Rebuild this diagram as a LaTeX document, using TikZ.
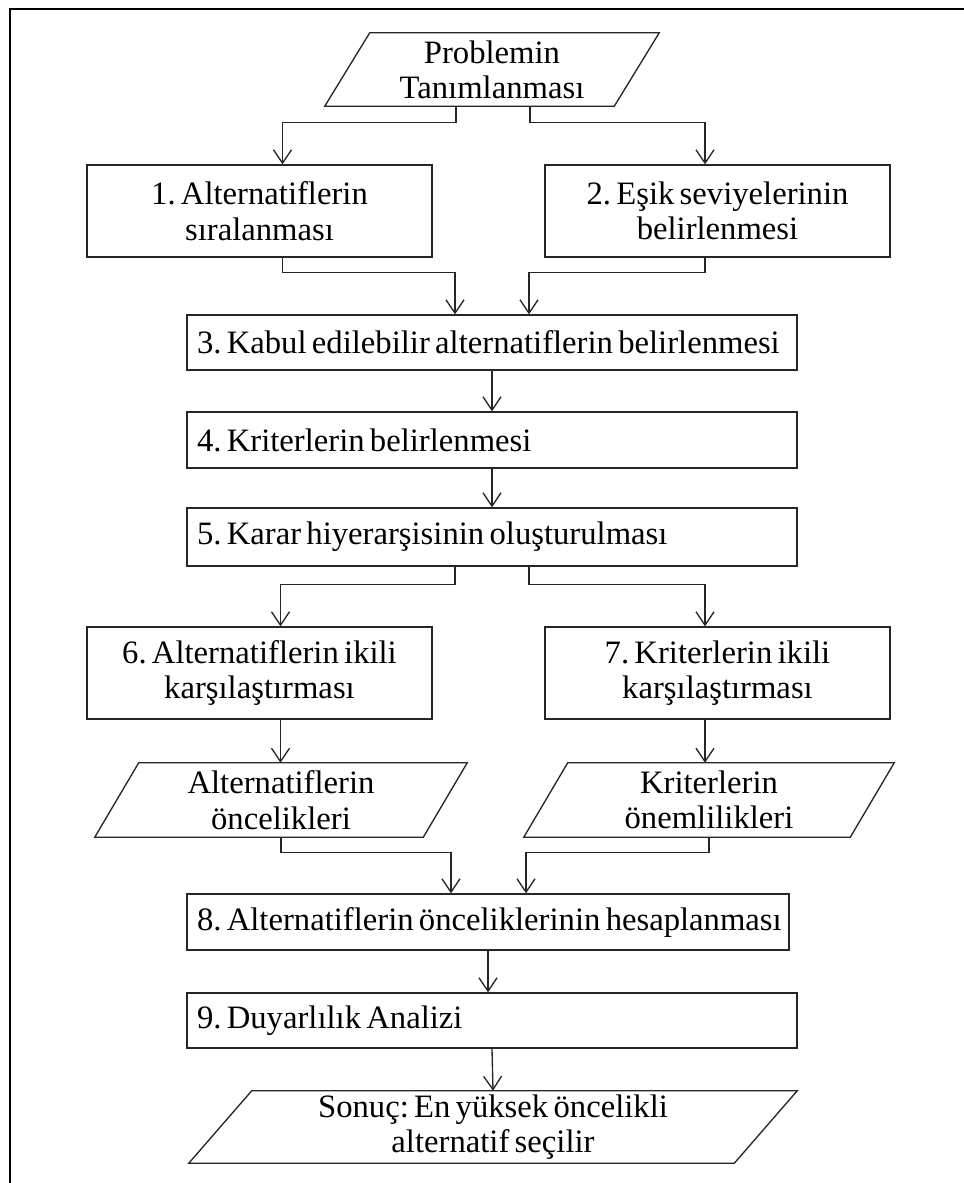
\documentclass[tikz,border=0pt]{standalone}
\usepackage{fontspec}
\setmainfont[WordSpace=0.65]{Liberation Serif}
\usetikzlibrary{arrows.meta,calc}
\begin{document}
\frenchspacing
\begin{tikzpicture}[x=0.75pt,y=-0.75pt,
  txt/.style={font=\fontsize{24.5}{26.5}\selectfont},
  stepbox/.style={txt, draw=black!85, line width=1pt, align=center, inner sep=0pt,
    minimum width=258.75pt, minimum height=69pt},
  widebox/.style={txt, draw=black!85, line width=1pt, inner ysep=0pt,
    inner xsep=7.5pt, minimum height=#1},
  iobox/.style={txt, align=center, inner sep=0pt},
  link/.style={draw=black!85, line width=1pt, -{Straight Barb[length=10pt,width=13.5pt,line width=1pt]}},
  outline/.style={draw=black!85, line width=1pt}]
  \useasboundingbox (0,0) rectangle (964,1183);
  % outer frame (left and top edges)
  \draw[line width=1.7pt] (10,1183) -- (10,8.7) -- (964,8.7);

  % parallelogram outline around a plain node
  \newcommand{\ioshape}[2]{%
    \draw[outline] (#1.south west) -- ($(#1.north west)+(#2,0)$) -- (#1.north east)
      -- ($(#1.south east)+(-#2,0)$) -- cycle;}
  % one-line, left-set label of a given width
  \newcommand{\lline}[2]{\makebox[#1][l]{#2}}

  % start
  \node[iobox, minimum width=250.5pt, minimum height=54.75pt] (P0) at (492,69.5)
    {Problemin\\Tanımlanması};
  \ioshape{P0}{45}

  % steps 1 and 2
  \node[stepbox] (B1) at (259.5,211) {1. Alternatiflerin\\sıralanması};
  \node[stepbox] (B2) at (717.5,211) {2. Eşik seviyelerinin\\belirlenmesi};

  % steps 3 to 5
  \node[widebox=41.25pt] (B3) at (492,342.5)
    {\lline{442.5pt}{3. Kabul edilebilir alternatiflerin belirlenmesi}};
  \node[widebox=42pt] (B4) at (492,440)
    {\lline{442.5pt}{4. Kriterlerin belirlenmesi}};
  \node[widebox=43.5pt] (B5) at (492,537)
    {\lline{442.5pt}{5. Karar hiyerarşisinin oluşturulması}};

  % steps 6 and 7
  \node[stepbox] (B6) at (259.5,673) {6. Alternatiflerin ikili\\karşılaştırması};
  \node[stepbox] (B7) at (717.5,673) {7. Kriterlerin ikili\\karşılaştırması};

  % intermediate results
  \node[iobox, minimum width=279pt, minimum height=55.5pt] (P6) at (281,800)
    {Alternatiflerin\\öncelikleri};
  \ioshape{P6}{44}
  \node[iobox, minimum width=277.5pt, minimum height=55.5pt] (P7) at (709,800)
    {Kriterlerin\\önemlilikleri};
  \ioshape{P7}{44}

  % steps 8 and 9
  \node[widebox=42pt] (B8) at (488,922)
    {\lline{436.5pt}{8. Alternatiflerin önceliklerinin hesaplanması}};
  \node[widebox=41.25pt] (B9) at (492,1020.5)
    {\lline{442.5pt}{9. Duyarlılık Analizi}};

  % result
  \node[iobox, minimum width=456pt, minimum height=54pt] (P9) at (493,1127)
    {Sonuç: En yüksek öncelikli\\alternatif seçilir};
  \ioshape{P9}{63}

  % connectors
  \draw[link] ($(P0.south)+(-36,0)$) -- ++(0,16) -| ($(B1.north)+(23,0)$);
  \draw[link] ($(P0.south)+(38,0)$) -- ++(0,16) -| ($(B2.north)+(-12.5,0)$);
  \draw[link] ($(B1.south)+(23,0)$) -- ++(0,15) -| ($(B3.north)+(-37,0)$);
  \draw[link] ($(B2.south)+(-12.5,0)$) -- ++(0,15) -| ($(B3.north)+(37,0)$);
  \draw[link] (B3.south) -- (B4.north);
  \draw[link] (B4.south) -- (B5.north);
  \draw[link] ($(B5.south)+(-37,0)$) -- ++(0,18) -| ($(B6.north)+(21,0)$);
  \draw[link] ($(B5.south)+(37,0)$) -- ++(0,18) -| ($(B7.north)+(-12.5,0)$);
  \draw[link] ($(B6.south)+(21,0)$) coordinate (c6) -- (c6 |- P6.north);
  \draw[link] ($(B7.south)+(-12.5,0)$) coordinate (c7) -- (c7 |- P7.north);
  \draw[link] (P6.south) -- ++(0,15) -| ($(B8.north)+(-37,0)$);
  \draw[link] (P7.south) -- ++(0,15) -| ($(B8.north)+(38,0)$);
  \draw[link] (B8.south) -- (B8.south |- B9.north);
  \draw[link] (B9.south) -- (P9.north);
\end{tikzpicture}
\end{document}
